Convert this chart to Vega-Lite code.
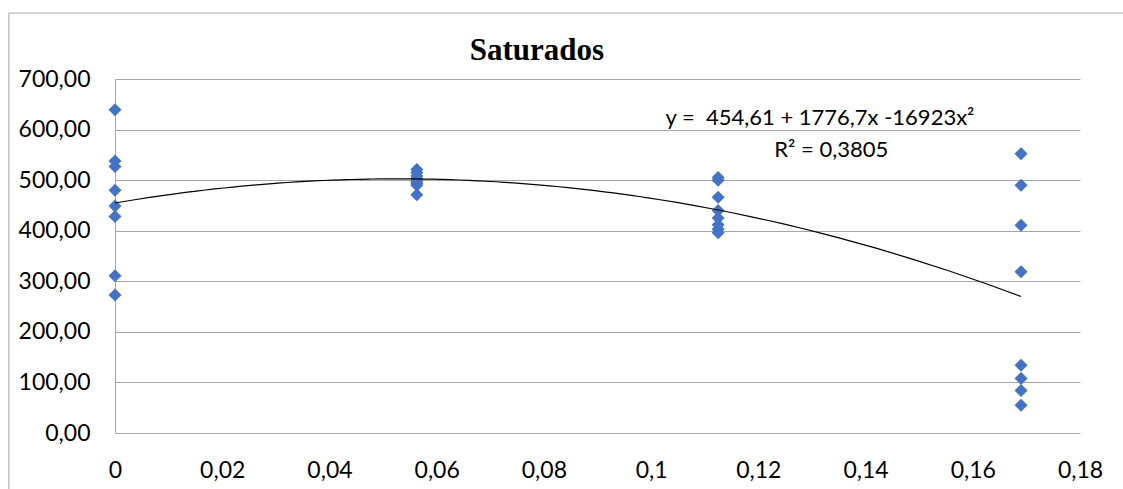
{
  "$schema": "https://vega.github.io/schema/vega-lite/v6.json",
  "width": 965,
  "height": 354,
  "autosize": "none",
  "padding": {"left": 115, "top": 79, "right": 43, "bottom": 56},
  "background": "white",
  "config": {
    "locale": {"number": {"decimal": ",", "thousands": ".", "grouping": [3], "currency": ["", ""]}},
    "view": {"stroke": null},
    "font": "Lato"
  },
  "data": {
    "values": [
      {"x": 0, "y": 639}, {"x": 0, "y": 538}, {"x": 0, "y": 527}, {"x": 0, "y": 480},
      {"x": 0, "y": 449}, {"x": 0, "y": 428}, {"x": 0, "y": 311}, {"x": 0, "y": 273},
      {"x": 0.0563, "y": 521}, {"x": 0.0563, "y": 515}, {"x": 0.0563, "y": 508}, {"x": 0.0563, "y": 503},
      {"x": 0.0563, "y": 498}, {"x": 0.0563, "y": 494}, {"x": 0.0563, "y": 490}, {"x": 0.0563, "y": 471},
      {"x": 0.1125, "y": 505}, {"x": 0.1125, "y": 500}, {"x": 0.1125, "y": 466}, {"x": 0.1125, "y": 440},
      {"x": 0.1125, "y": 425}, {"x": 0.1125, "y": 412}, {"x": 0.1125, "y": 403}, {"x": 0.1125, "y": 396},
      {"x": 0.169, "y": 552}, {"x": 0.169, "y": 490}, {"x": 0.169, "y": 411}, {"x": 0.169, "y": 319},
      {"x": 0.169, "y": 134}, {"x": 0.169, "y": 108}, {"x": 0.169, "y": 84}, {"x": 0.169, "y": 55}
    ]
  },
  "layer": [
    {
      "data": {"values": [{}]},
      "mark": {"type": "rule", "color": "#a6a6a6", "strokeWidth": 1},
      "encoding": {
        "x": {"datum": -0.0198, "type": "quantitative"},
        "x2": {"datum": 0.25},
        "y": {"datum": 830.5, "type": "quantitative"}
      }
    },
    {
      "data": {"values": [{}]},
      "mark": {"type": "rule", "color": "#a6a6a6", "strokeWidth": 1},
      "encoding": {
        "x": {"datum": -0.0198, "type": "quantitative"},
        "y": {"datum": 830.5, "type": "quantitative"},
        "y2": {"datum": -300}
      }
    },
    {
      "mark": {"type": "point", "shape": "diamond", "filled": true, "color": "#4472C4", "size": 170, "opacity": 1},
      "encoding": {
        "x": {
          "field": "x",
          "type": "quantitative",
          "scale": {"domain": [0, 0.18], "nice": false, "zero": false},
          "axis": {
            "title": null,
            "values": [0, 0.02, 0.04, 0.06, 0.08, 0.1, 0.12, 0.14, 0.16, 0.18],
            "format": ".2~f",
            "grid": false,
            "ticks": false,
            "domain": false,
            "labelFlush": false,
            "labelFont": "Lato",
            "labelFontSize": 23,
            "labelColor": "black",
            "labelPadding": 26
          }
        },
        "y": {
          "field": "y",
          "type": "quantitative",
          "scale": {"domain": [0, 700], "nice": false},
          "axis": {
            "title": null,
            "values": [0, 100, 200, 300, 400, 500, 600, 700],
            "format": ".2f",
            "grid": true,
            "gridColor": "#a6a6a6",
            "gridWidth": 1,
            "gridOpacity": 1,
            "ticks": false,
            "domain": true,
            "domainColor": "#a6a6a6",
            "domainWidth": 1,
            "labelFlush": false,
            "labelFont": "Lato",
            "labelFontSize": 23,
            "labelColor": "black",
            "labelPadding": 25
          }
        }
      }
    },
    {
      "transform": [{"regression": "y", "on": "x", "method": "poly", "order": 2}],
      "mark": {"type": "line", "color": "black", "strokeWidth": 1.2},
      "encoding": {
        "x": {"field": "x", "type": "quantitative"},
        "y": {"field": "y", "type": "quantitative"}
      }
    },
    {
      "data": {"values": [{}]},
      "mark": {"type": "text", "font": "Liberation Serif", "fontSize": 31, "fontWeight": "bold", "color": "black", "align": "center", "baseline": "alphabetic"},
      "encoding": {
        "x": {"datum": 0.0787, "type": "quantitative"},
        "y": {"datum": 737, "type": "quantitative"},
        "text": {"value": "Saturados"}
      }
    },
    {
      "data": {"values": [{}]},
      "mark": {"type": "text", "font": "Lato", "fontSize": 22, "color": "black", "align": "center", "baseline": "middle"},
      "encoding": {
        "x": {"datum": 0.1315, "type": "quantitative"},
        "y": {"datum": 623, "type": "quantitative"},
        "text": {"value": "y = \u00a0454,61 + 1776,7x -16923x²"}
      }
    },
    {
      "data": {"values": [{}]},
      "mark": {"type": "text", "font": "Lato", "fontSize": 22, "color": "black", "align": "center", "baseline": "middle"},
      "encoding": {
        "x": {"datum": 0.1336, "type": "quantitative"},
        "y": {"datum": 560, "type": "quantitative"},
        "text": {"value": "R² = 0,3805"}
      }
    }
  ]
}
